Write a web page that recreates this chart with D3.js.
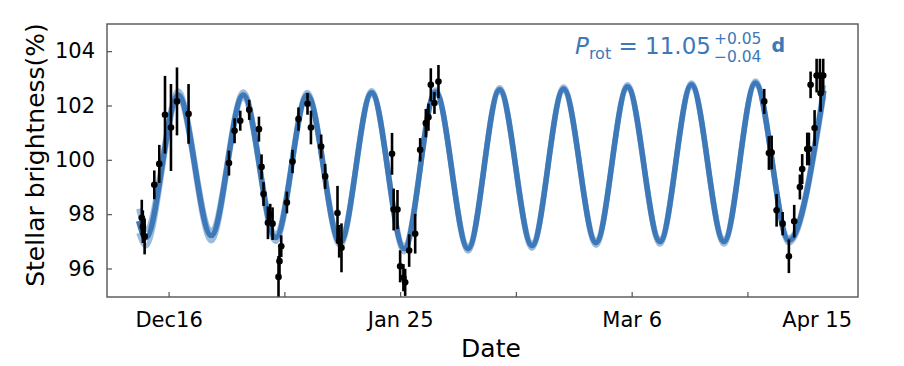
<!DOCTYPE html>
<html>
<head>
<meta charset="utf-8">
<script src="https://cdn.jsdelivr.net/npm/d3@7"></script>
<style>
  body { margin: 0; background: #fff; }
  svg { display: block; font-family: "DejaVu Sans", sans-serif; }
</style>
</head>
<body>
<div id="chart"></div>
<script>
// days counted from Dec 16
const tickDays = [0, 20, 40, 60, 80, 100];
const tickLabels = ['Dec16', '', 'Jan 25', '', 'Mar 6', ''];
const lastLabel = 'Apr 15';
const yTicks = [96, 98, 100, 102, 104];

// observations (day, brightness %, error)
const obsDay = [-4.63, -4.45, -4.14, -2.47, -1.61, -0.62, 0.41, 1.45, 3.45,
  10.43, 11.4, 12.38, 13.93, 15.61, 16.06, 16.4, 17.16, 17.56, 17.96,
  18.99, 19.16, 19.46, 20.44, 21.41, 22.44, 24.0, 24.59, 26.36, 27.05,
  29.18, 29.47, 29.87,
  38.6, 38.88, 39.54, 40.0, 40.57, 40.87, 41.56, 42.6, 43.46, 44.44, 44.89, 45.3, 45.93, 46.62,
  102.9, 103.71, 104.18, 105.04, 106.08, 107.16, 108.08, 109.06, 109.46, 110.33, 110.62,
  110.91, 111.6, 111.95, 112.52, 112.64, 113.09];
const obsFlux = [97.87, 97.54, 97.18, 99.08, 99.85, 101.66, 101.19, 102.15, 101.69,
  99.88, 101.07, 101.44, 101.84, 101.13, 99.74, 98.74, 97.68, 97.98, 97.65,
  95.69, 96.27, 96.82, 98.43, 99.94, 101.5, 102.06, 101.19, 100.49, 99.39,
  98.04, 97.0, 96.76,
  100.22, 98.17, 98.17, 96.08, 95.66, 95.49, 96.66, 97.28, 100.37, 101.35, 101.57, 102.76, 102.09, 102.88,
  102.15, 100.25, 100.27, 98.14, 97.65, 96.45, 97.74, 99.0, 99.66, 100.4, 100.4,
  102.76, 101.17, 103.1, 103.1, 102.45, 103.1];
const obsErr = [0.66, 0.6, 0.66, 0.53, 0.7, 1.43, 1.6, 1.25, 1.1,
  0.46, 0.46, 0.37, 0.37, 0.46, 0.46, 0.44, 0.6, 0.4, 0.6,
  0.77, 0.5, 0.4, 0.4, 0.43, 0.43, 0.4, 0.62, 0.44, 0.46,
  1.0, 0.6, 0.9,
  0.77, 0.77, 0.72, 0.59, 0.5, 0.5, 0.6, 0.73, 0.43, 0.52, 0.5, 0.61, 0.4, 0.61,
  0.46, 0.62, 0.62, 0.6, 0.43, 0.62, 0.6, 0.46, 0.55, 0.6, 0.6,
  0.49, 0.66, 0.62, 0.62, 0.68, 0.62];

// rotation model: turning points, plus spread of samples
const modelDay = [-5.18, -3.94, 1.67, 7.37, 12.9, 18.51, 23.95, 29.64, 35.08, 40.69,
  46.13, 51.74, 57.18, 62.79, 68.23, 73.84, 79.28, 84.89, 90.33, 95.94, 101.38, 107.16, 113.2];
const modelFlux = [97.75, 97.13, 102.39, 97.21, 102.39, 97.14, 102.39, 96.95, 102.47, 96.73,
  102.5, 96.73, 102.58, 96.84, 102.61, 96.95, 102.69, 96.99, 102.76, 96.99, 102.83, 97.03, 102.55];
const modelSpread = [0.45, 0.3, 0.15, 0.2, 0.12, 0.15, 0.1, 0.12, 0.08, 0.12,
  0.08, 0.1, 0.08, 0.1, 0.08, 0.1, 0.08, 0.1, 0.08, 0.1, 0.08, 0.1, 0.2];

const W = 904, H = 366;
const margin = { top: 24, right: 46, bottom: 69, left: 107 };
const width = W - margin.left - margin.right;
const height = H - margin.top - margin.bottom;
const blue = '#3d78b8';

const svg = d3.select('#chart')
  .append('svg')
  .attr('width', W)
  .attr('height', H);

svg.append('defs').append('clipPath')
  .attr('id', 'plot-clip')
  .append('rect')
  .attr('width', width)
  .attr('height', height);

const g = svg.append('g')
  .attr('transform', `translate(${margin.left},${margin.top})`);

const x = d3.scaleLinear().domain([-10.64, 119.1]).range([0, width]);
const y = d3.scaleLinear().domain([94.95, 105]).range([height, 0]);

const plot = g.append('g').attr('clip-path', 'url(#plot-clip)');

// model band
const line = (off) => d3.line()
  .x((d, i) => x(modelDay[i]))
  .y((d, i) => y(modelFlux[i] + off * modelSpread[i]))
  .curve(d3.curveMonotoneX);

[-1, 1].forEach(s => {
  plot.append('path')
    .datum(modelDay)
    .attr('d', line(s))
    .attr('fill', 'none')
    .attr('stroke', blue)
    .attr('stroke-opacity', 0.5)
    .attr('stroke-width', 5);
});
plot.append('path')
  .datum(modelDay)
  .attr('d', line(0))
  .attr('fill', 'none')
  .attr('stroke', blue)
  .attr('stroke-width', 5.5);

// data with error bars
plot.selectAll('.err')
  .data(obsDay)
  .enter()
  .append('line')
  .attr('class', 'err')
  .attr('x1', (d) => x(d))
  .attr('x2', (d) => x(d))
  .attr('y1', (d, i) => y(obsFlux[i] - obsErr[i]))
  .attr('y2', (d, i) => y(obsFlux[i] + obsErr[i]))
  .attr('stroke', '#000')
  .attr('stroke-width', 2.6);
plot.selectAll('circle')
  .data(obsDay)
  .enter()
  .append('circle')
  .attr('cx', (d) => x(d))
  .attr('cy', (d, i) => y(obsFlux[i]))
  .attr('r', 3.3)
  .attr('fill', '#000');

// axes (ticks pointing in)
const xAxis = g.append('g')
  .attr('transform', `translate(0,${height})`)
  .call(d3.axisBottom(x)
    .tickValues(tickDays)
    .tickSize(-5)
    .tickPadding(15)
    .tickFormat((d, i) => tickLabels[i]));

const yAxis = g.append('g')
  .call(d3.axisLeft(y)
    .tickValues(yTicks)
    .tickSize(-5)
    .tickPadding(12));

[xAxis, yAxis].forEach(a => {
  a.select('.domain').remove();
  a.selectAll('line').attr('stroke', '#555').attr('stroke-width', 1.2);
  a.selectAll('text').attr('font-size', 21).attr('fill', '#000')
    .attr('font-family', '"DejaVu Sans", sans-serif');
});

g.append('text')
  .attr('x', width - 6)
  .attr('y', height + 15)
  .attr('dy', '0.71em')
  .attr('text-anchor', 'end')
  .attr('font-size', 21)
  .text(lastLabel);

g.append('rect')
  .attr('width', width)
  .attr('height', height)
  .attr('fill', 'none')
  .attr('stroke', '#555')
  .attr('stroke-width', 1.4);

// axis titles
svg.append('text')
  .attr('transform', 'translate(44,155) rotate(-90)')
  .attr('text-anchor', 'middle')
  .attr('font-size', 25)
  .text('Stellar brightness(%)');

svg.append('text')
  .attr('x', 491)
  .attr('y', 357)
  .attr('text-anchor', 'middle')
  .attr('font-size', 25)
  .text('Date');

// period annotation
const ann = svg.append('g').attr('fill', blue);
const main = ann.append('text')
  .attr('x', 575)
  .attr('y', 54)
  .attr('font-size', 23);
main.append('tspan').attr('font-style', 'italic').text('P');
main.append('tspan').attr('font-size', 16).attr('dy', 5).text('rot');
main.append('tspan').attr('dy', -5).text(' = 11.05');
const mw = main.node().getComputedTextLength();

const sup = ann.append('text')
  .attr('x', 575 + mw + 3)
  .attr('y', 43.5)
  .attr('font-size', 15.5)
  .text('+0.05');
const sub = ann.append('text')
  .attr('x', 575 + mw + 3)
  .attr('y', 62)
  .attr('font-size', 15.5)
  .text('\u22120.04');
const sw = Math.max(sup.node().getComputedTextLength(), sub.node().getComputedTextLength());

ann.append('text')
  .attr('x', 575 + mw + 3 + sw + 10)
  .attr('y', 52)
  .attr('font-size', 19)
  .attr('font-weight', 'bold')
  .text('d');
</script>
</body>
</html>
